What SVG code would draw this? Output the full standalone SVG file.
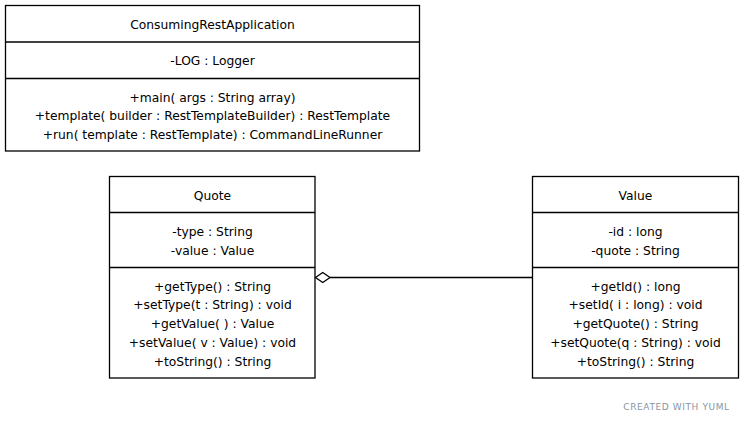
<svg xmlns="http://www.w3.org/2000/svg" width="745" height="421" viewBox="0 0 745 421">
<style>
.box{fill:#fff;stroke:#000;stroke-width:1.3}
.ln{stroke:#000;stroke-width:1.3;fill:none}
text{font-family:"DejaVu Sans",sans-serif;font-size:12.3px;fill:#000;text-anchor:middle}
.wm{font-size:9px;fill:#8795a3;letter-spacing:0.6px}
</style>
<rect width="745" height="421" fill="#fff"/>
<g id="ConsumingRestApplication">
<rect class="box" x="5.5" y="5.5" width="414" height="145.5"/>
<line class="ln" x1="5.5" y1="42" x2="419.5" y2="42"/>
<line class="ln" x1="5.5" y1="78.5" x2="419.5" y2="78.5"/>
<text x="212.5" y="28.5">ConsumingRestApplication</text>
<text x="212.5" y="65">-LOG : Logger</text>
<text x="212.5" y="101.5">+main( args : String array)</text>
<text x="212.5" y="120">+template( builder : RestTemplateBuilder) : RestTemplate</text>
<text x="212.5" y="138.5">+run( template : RestTemplate) : CommandLineRunner</text>
</g>
<g id="Quote">
<rect class="box" x="109.5" y="176.5" width="205.5" height="201.5"/>
<line class="ln" x1="109.5" y1="212.5" x2="315" y2="212.5"/>
<line class="ln" x1="109.5" y1="267.5" x2="315" y2="267.5"/>
<text x="212.5" y="199.5">Quote</text>
<text x="212.5" y="235.5">-type : String</text>
<text x="212.5" y="254.5">-value : Value</text>
<text x="212.5" y="290.5">+getType() : String</text>
<text x="212.5" y="308.5">+setType(t : String) : void</text>
<text x="212.5" y="327.5">+getValue( ) : Value</text>
<text x="212.5" y="346.5">+setValue( v : Value) : void</text>
<text x="212.5" y="365.5">+toString() : String</text>
</g>
<g id="Value">
<rect class="box" x="532.5" y="176.5" width="206" height="201.5"/>
<line class="ln" x1="532.5" y1="212.5" x2="738.5" y2="212.5"/>
<line class="ln" x1="532.5" y1="267.5" x2="738.5" y2="267.5"/>
<text x="635.5" y="199.5">Value</text>
<text x="635.5" y="235.5">-id : long</text>
<text x="635.5" y="254.5">-quote : String</text>
<text x="635.5" y="290.5">+getId() : long</text>
<text x="635.5" y="308.5">+setId( i : long) : void</text>
<text x="635.5" y="327.5">+getQuote() : String</text>
<text x="635.5" y="346.5">+setQuote(q : String) : void</text>
<text x="635.5" y="365.5">+toString() : String</text>
</g>
<g id="connectors">
<line class="ln" x1="330" y1="277.5" x2="532.5" y2="277.5"/>
<polygon class="ln" points="315.5,277.5 322.75,272.5 330,277.5 322.75,282.5" fill="#fff"/>
</g>
<text class="wm" x="676.5" y="409.5">CREATED WITH YUML</text>
</svg>
